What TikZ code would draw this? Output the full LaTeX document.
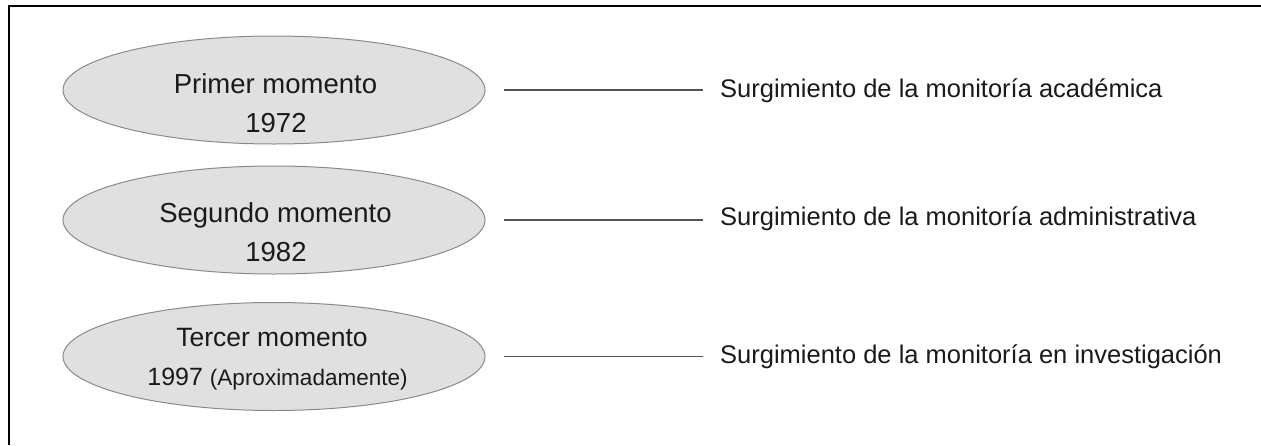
\documentclass[tikz,border=0pt]{standalone}
\usepackage{fontspec}
\setmainfont{Liberation Sans}
\usetikzlibrary{shapes.geometric}
\definecolor{ellfill}{HTML}{E0E0E0}
\definecolor{elldraw}{HTML}{8A8A8A}
\definecolor{linecol}{HTML}{555555}
\definecolor{txtcol}{HTML}{1A1A1A}
\tikzset{
  momentbox/.style={ellipse, draw=elldraw, fill=ellfill, line width=1pt,
    minimum width=422pt, minimum height=108pt, inner sep=0pt},
  momenttext/.style={anchor=base, inner sep=0pt, text=txtcol,
    font=\fontsize{27.5}{33}\selectfont},
  desctext/.style={anchor=base west, inner sep=0pt, text=txtcol,
    font=\fontsize{25.5}{30}\selectfont},
  link/.style={draw=linecol, line width=1.6pt},
  frameline/.style={draw=black, line width=2pt}
}
\begin{document}
\begin{tikzpicture}[x=1pt,y=-1pt]
\useasboundingbox (0,0) rectangle (1261,445);
% frame (top and left edges visible)
\coordinate (ftl) at (8.5,6);
\coordinate (ftr) at (1261,6);
\coordinate (fbl) at (8.5,445);
\draw[frameline] (ftr) -- (ftl) -- (fbl);

% ellipses
\node[momentbox] (e1) at (274,90) {};
\node[momentbox] (e2) at (274,220) {};
\node[momentbox] (e3) at (274,356.5) {};

% texts inside ellipses
\node[momenttext] (t1a) at (275.5,93) {Primer momento};
\node[momenttext] (t1b) at (276,132) {1972};
\node[momenttext] (t2a) at (275.5,222) {Segundo momento};
\node[momenttext] (t2b) at (276,261) {1982};
\node[momenttext, font=\fontsize{26.5}{30}\selectfont] (t3a) at (272,346) {Tercer momento};
\node[momenttext, font=\fontsize{25}{30}\selectfont] (t3b) at (277.5,385) {1997 {\fontsize{22.5}{27}\selectfont(Aproximadamente)}};

% descriptions
\node[desctext] (d1) at (720,97) {Surgimiento de la monitoría académica};
\node[desctext] (d2) at (720,225) {Surgimiento de la monitoría administrativa};
\node[desctext] (d3) at (720,363) {Surgimiento de la monitoría en investigación};

% connector end points
\coordinate (l1s) at ([xshift=18pt]e1.east);
\coordinate (l1e) at (703,92);
\coordinate (l2s) at ([xshift=18pt]e2.east);
\coordinate (l2e) at (703,222);
\coordinate (l3s) at ([xshift=18pt]e3.east);
\coordinate (l3e) at (703,356.5);
\draw[link] (l1s) -- (l1s -| l1e);
\draw[link] (l2s) -- (l2s -| l2e);
\draw[link] (l3s) -- (l3s -| l3e);
\end{tikzpicture}
\end{document}
